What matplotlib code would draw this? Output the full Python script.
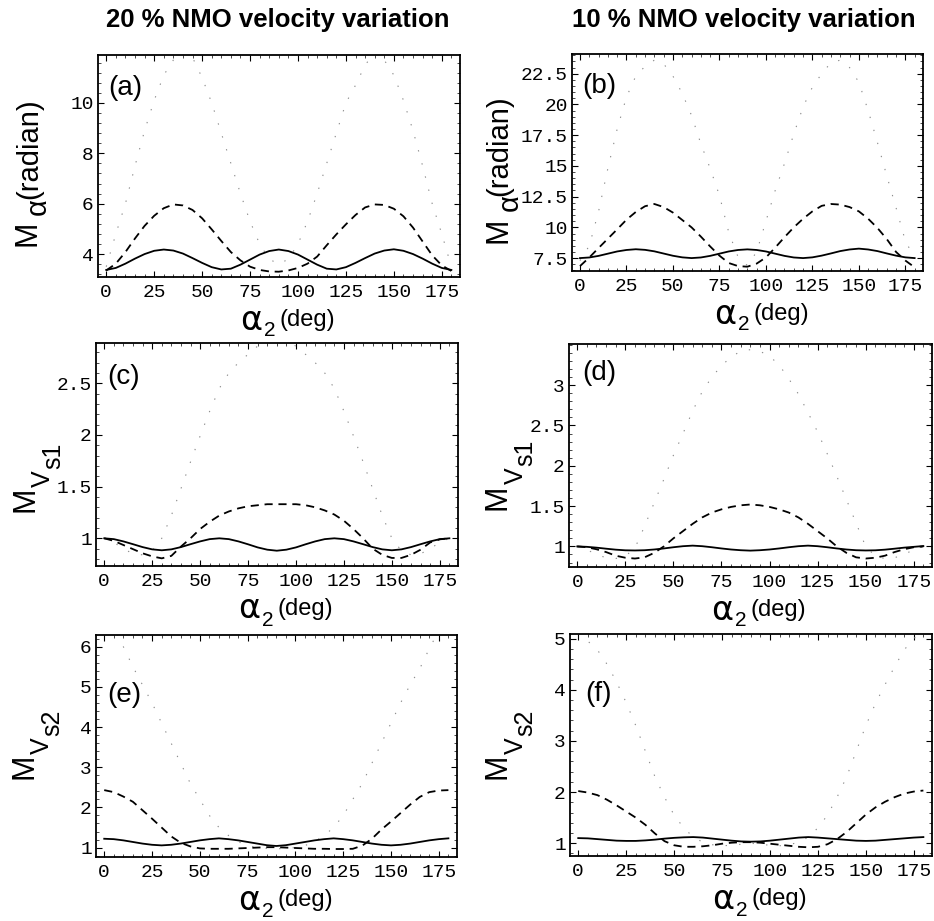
import matplotlib
matplotlib.use("Agg")
import matplotlib.pyplot as plt
from matplotlib.ticker import MultipleLocator, AutoMinorLocator

plt.rcParams['font.family'] = ['Liberation Sans', 'DejaVu Sans']

# ---------------- data ----------------
alpha2 = list(range(0, 185, 5))  # degrees, 0..180

a_solid = [3.37, 3.45, 3.62, 3.82, 4.00, 4.13, 4.18, 4.14, 4.02, 3.84, 3.65, 3.48, 3.39,
           3.42, 3.58, 3.78, 3.98, 4.12, 4.18, 4.12, 3.98, 3.78, 3.58, 3.42, 3.39, 3.48,
           3.65, 3.84, 4.02, 4.14, 4.19, 4.13, 4.00, 3.82, 3.62, 3.45, 3.37]
a_dashed = [3.35, 3.62, 4.08, 4.62, 5.12, 5.52, 5.82, 5.97, 5.93, 5.75, 5.42, 4.98, 4.52,
            4.08, 3.75, 3.50, 3.37, 3.31, 3.30, 3.35, 3.45, 3.62, 3.90, 4.35, 4.78, 5.18,
            5.55, 5.85, 5.97, 5.95, 5.80, 5.50, 5.05, 4.50, 3.95, 3.55, 3.33]
a_dotted = [3.5, 4.8, 6.0, 7.5, 8.9, 10.1, 11.1, 11.7, 12.0, 11.8, 11.0, 10.0, 8.8,
            7.6, 6.4, 5.3, 4.4, 3.8, 3.6, 3.8, 4.4, 5.3, 6.4, 7.6, 8.8, 10.0,
            10.7, 11.5, 12.0, 11.7, 11.1, 10.1, 8.9, 7.5, 6.0, 4.8, 3.5]

b_solid = [7.50, 7.55, 7.68, 7.86, 8.04, 8.16, 8.22, 8.17, 8.05, 7.87, 7.69, 7.56, 7.50,
           7.55, 7.68, 7.86, 8.04, 8.16, 8.21, 8.16, 8.04, 7.86, 7.68, 7.55, 7.50, 7.56,
           7.70, 7.88, 8.07, 8.20, 8.27, 8.20, 8.07, 7.88, 7.70, 7.56, 7.50]
b_dashed = [6.85, 7.55, 8.32, 9.08, 9.84, 10.62, 11.25, 11.72, 11.9, 11.65, 11.2, 10.6, 10.0,
            9.25, 8.45, 7.7, 7.1, 6.85, 6.8, 7.05, 7.55, 8.35, 9.2, 10.0, 10.7, 11.3,
            11.75, 11.9, 11.85, 11.65, 11.3, 10.7, 9.95, 9.05, 8.0, 7.3, 6.75]
b_dotted = [7.3, 8.5, 11.3, 14.8, 18.0, 20.6, 22.3, 23.1, 23.6, 23.3, 22.3, 20.9, 19.1,
            16.8, 14.8, 12.6, 9.6, 7.6, 6.9, 8.0, 10.5, 13.0, 15.2, 17.6, 19.8, 21.4,
            22.5, 23.4, 23.6, 23.0, 21.8, 19.5, 16.9, 14.2, 11.6, 8.9, 7.5]

c_solid = [1.0, 0.992, 0.97, 0.943, 0.915, 0.893, 0.884, 0.893, 0.915, 0.943, 0.97, 0.992, 1.0,
           0.992, 0.97, 0.942, 0.912, 0.89, 0.88, 0.89, 0.912, 0.942, 0.97, 0.992, 1.0, 0.992,
           0.97, 0.943, 0.915, 0.893, 0.884, 0.893, 0.915, 0.943, 0.97, 0.992, 1.0]
c_dashed = [1.0, 0.975, 0.935, 0.895, 0.855, 0.825, 0.806, 0.83, 0.92, 1.0, 1.09, 1.16, 1.22,
            1.26, 1.29, 1.31, 1.32, 1.33, 1.33, 1.33, 1.33, 1.32, 1.30, 1.27, 1.23, 1.17,
            1.09, 1.0, 0.90, 0.84, 0.81, 0.81, 0.84, 0.89, 0.96, 0.99, 1.0]
c_dotted = [1.0, 0.96, 0.9, 0.85, 0.84, 0.88, 1.0, 1.22, 1.48, 1.74, 1.99, 2.23, 2.45,
            2.60, 2.70, 2.78, 2.86, 2.90, 2.91, 2.90, 2.86, 2.78, 2.70, 2.60, 2.45, 2.23,
            1.99, 1.74, 1.48, 1.22, 1.0, 0.88, 0.84, 0.85, 0.9, 0.96, 1.0]

d_solid = [1.0, 0.995, 0.985, 0.972, 0.96, 0.952, 0.95, 0.953, 0.962, 0.975, 0.99, 1.003, 1.01,
           1.003, 0.99, 0.975, 0.962, 0.953, 0.948, 0.953, 0.962, 0.975, 0.99, 1.003, 1.01, 1.003,
           0.99, 0.975, 0.962, 0.953, 0.95, 0.952, 0.96, 0.972, 0.985, 0.995, 1.005]
d_dashed = [1.0, 0.99, 0.965, 0.93, 0.885, 0.86, 0.85, 0.865, 0.92, 1.0, 1.10, 1.19, 1.28,
            1.36, 1.42, 1.46, 1.49, 1.51, 1.52, 1.51, 1.49, 1.46, 1.42, 1.36, 1.28, 1.19,
            1.10, 1.0, 0.92, 0.865, 0.85, 0.86, 0.885, 0.93, 0.965, 0.99, 1.0]
d_dotted = [1.0, 0.96, 0.9, 0.86, 0.85, 0.88, 0.98, 1.25, 1.54, 1.83, 2.13, 2.40, 2.68,
            2.92, 3.10, 3.24, 3.35, 3.42, 3.44, 3.42, 3.36, 3.25, 3.08, 2.89, 2.66, 2.42,
            2.15, 1.87, 1.58, 1.29, 1.0, 0.88, 0.85, 0.86, 0.9, 0.96, 1.0]

e_solid = [1.22, 1.21, 1.18, 1.14, 1.10, 1.07, 1.055, 1.07, 1.10, 1.14, 1.18, 1.21, 1.23,
           1.21, 1.18, 1.14, 1.10, 1.06, 1.04, 1.06, 1.10, 1.14, 1.18, 1.21, 1.23, 1.21,
           1.18, 1.14, 1.10, 1.07, 1.055, 1.07, 1.10, 1.14, 1.18, 1.21, 1.23]
e_dashed = [2.43, 2.38, 2.27, 2.14, 1.93, 1.72, 1.50, 1.28, 1.12, 1.03, 0.98, 0.97, 0.97,
            0.97, 0.98, 0.99, 1.0, 1.01, 1.01, 1.0, 0.99, 0.98, 0.97, 0.97, 0.965, 0.965,
            0.97, 1.05, 1.22, 1.45, 1.65, 1.86, 2.07, 2.26, 2.38, 2.42, 2.43]
e_dotted = [6.9, 6.45, 6.0, 5.5, 5.05, 4.6, 4.1, 3.6, 3.1, 2.6, 2.2, 1.8, 1.5,
            1.3, 1.15, 1.05, 1.0, 0.98, 0.97, 0.98, 1.0, 1.05, 1.15, 1.3, 1.5, 1.8,
            2.2, 2.6, 3.1, 3.6, 4.1, 4.6, 5.05, 5.45, 5.95, 6.4, 6.8]

f_solid = [1.10, 1.095, 1.08, 1.065, 1.05, 1.045, 1.045, 1.055, 1.07, 1.09, 1.105, 1.115, 1.12,
           1.11, 1.09, 1.07, 1.05, 1.035, 1.03, 1.035, 1.05, 1.07, 1.09, 1.11, 1.12, 1.11,
           1.095, 1.08, 1.065, 1.05, 1.045, 1.05, 1.065, 1.08, 1.095, 1.11, 1.12]
f_dashed = [2.02, 1.99, 1.94, 1.85, 1.74, 1.62, 1.50, 1.36, 1.19, 1.04, 0.96, 0.93, 0.93,
            0.94, 0.96, 0.99, 1.01, 1.02, 1.02, 1.01, 0.99, 0.97, 0.95, 0.93, 0.92, 0.93,
            0.98, 1.08, 1.22, 1.39, 1.56, 1.70, 1.81, 1.90, 1.97, 2.01, 2.03]
f_dotted = [5.1, 4.95, 4.78, 4.5, 4.15, 3.75, 3.3, 2.8, 2.3, 1.9, 1.55, 1.3, 1.12,
            1.02, 0.97, 0.95, 0.96, 0.98, 1.0, 0.98, 0.96, 0.95, 0.97, 1.02, 1.12, 1.3,
            1.55, 1.9, 2.3, 2.8, 3.3, 3.73, 4.1, 4.45, 4.78, 5.0, 5.15]

x_ticks = [0, 25, 50, 75, 100, 125, 150, 175]
a_yticks = [4, 6, 8, 10]
b_yticks = [7.5, 10, 12.5, 15, 17.5, 20, 22.5]
c_yticks = [1, 1.5, 2, 2.5]
d_yticks = [1, 1.5, 2, 2.5, 3]
e_yticks = [1, 2, 3, 4, 5, 6]
f_yticks = [1, 2, 3, 4, 5]

titles = ["20 % NMO velocity variation", "10 % NMO velocity variation"]
panel_letters = ["(a)", "(b)", "(c)", "(d)", "(e)", "(f)"]

# ---------------- figure ----------------
W, H = 934, 921
fig = plt.figure(figsize=(W / 100, H / 100), dpi=100)


def fx(x):
    return x / W


def fy(y):
    return 1 - y / H


def add_ax(x0, y0, x1, y1):
    return fig.add_axes([fx(x0), fy(y1), (x1 - x0) / W, (y1 - y0) / H])


panels = [
    # rect (px), solid, dashed, dotted, yticks, ylim, letter pos (px)
    ((98, 55, 460, 277), a_solid, a_dashed, a_dotted, a_yticks, (3.09, 11.9), (108, 75)),
    ((572, 54, 923, 271), b_solid, b_dashed, b_dotted, b_yticks, (6.45, 24.1), (582, 73)),
    ((96, 343, 458, 566), c_solid, c_dashed, c_dotted, c_yticks, (0.732, 2.89), (107, 364)),
    ((569, 344, 932, 567), d_solid, d_dashed, d_dotted, d_yticks, (0.745, 3.51), (582, 360)),
    ((96, 635, 457, 857), e_solid, e_dashed, e_dotted, e_yticks, (0.766, 6.29), (107, 682)),
    ((570, 634, 932, 856), f_solid, f_dashed, f_dotted, f_yticks, (0.75, 5.09), (585, 681)),
]

mono = 'Liberation Mono'
for i, (rect, ys, yd, yo, yt, ylim, lpos) in enumerate(panels):
    ax = add_ax(*rect)
    ax.plot(alpha2, yo, color='0.55', lw=0.8, linestyle=(0, (1.2, 11)))
    ax.plot(alpha2, yd, color='black', lw=1.3, linestyle=(0, (4.5, 3.2)))
    ax.plot(alpha2, ys, color='black', lw=1.3)
    ax.set_xlim(-4.3, 184.5)
    ax.set_ylim(*ylim)
    ax.set_xticks(x_ticks, labels=[str(t) for t in x_ticks], fontfamily=mono, fontsize=14)
    ax.set_yticks(yt, labels=['%g' % t for t in yt], fontfamily=mono, fontsize=14)
    ax.xaxis.set_minor_locator(MultipleLocator(5))
    ax.yaxis.set_minor_locator(AutoMinorLocator(5))
    ax.tick_params(which='both', direction='in', top=True, right=True)
    ax.tick_params(which='major', length=4.5, width=0.8, pad=5)
    ax.tick_params(which='minor', length=2.0, width=0.5)
    ax.tick_params(axis='y', pad=3)
    for sp in ax.spines.values():
        sp.set_linewidth(1.3)
    fig.text(fx(lpos[0]), fy(lpos[1]), panel_letters[i], ha='left', va='top', fontsize=20)

    # x label: alpha_2 (deg)
    x0, y1 = rect[0], rect[3]
    fig.text(fx(x0 + 153.5), fy(y1 + 43), 'α', ha='center', va='center', fontsize=24,
             family='DejaVu Sans')
    fig.text(fx(x0 + 171.5), fy(y1 + 54), '2', ha='center', va='center', fontsize=15)
    fig.text(fx(x0 + 209.5), fy(y1 + 43), '(deg)', ha='center', va='center', fontsize=17)

# y labels, M_alpha (radian)
for (mx, my), (ax_, ay_), (rx, ry) in [((27, 233), (37.5, 207), (29.5, 148.5)),
                                        ((498.5, 230.5), (509.5, 203), (499.5, 146))]:
    fig.text(fx(mx), fy(my), 'M', rotation=90, ha='center', va='center', fontsize=22)
    fig.text(fx(ax_), fy(ay_), 'α', rotation=90, ha='center', va='center', fontsize=21)
    fig.text(fx(rx), fy(ry), '(radian)', rotation=90, ha='center', va='center', fontsize=21)

# y labels, M_Vs1 / M_Vs2
for (mx, my), sub in [((25.5, 499.5), 's1'), ((498, 497), 's1'),
                      ((24.5, 766.5), 's2'), ((498, 766.5), 's2')]:
    fig.text(fx(mx), fy(my), 'M', rotation=90, ha='center', va='center', fontsize=22)
    fig.text(fx(mx + 17.5), fy(my - 21), 'V', rotation=90, ha='center', va='center', fontsize=18)
    fig.text(fx(mx + 27.5), fy(my - 44), sub, rotation=90, ha='center', va='center', fontsize=18)

# column titles
fig.text(fx(278), fy(20), titles[0], ha='center', va='center', fontsize=18.5, fontweight='bold')
fig.text(fx(744), fy(20), titles[1], ha='center', va='center', fontsize=18.5, fontweight='bold')

fig.savefig('out.png', dpi=100)
